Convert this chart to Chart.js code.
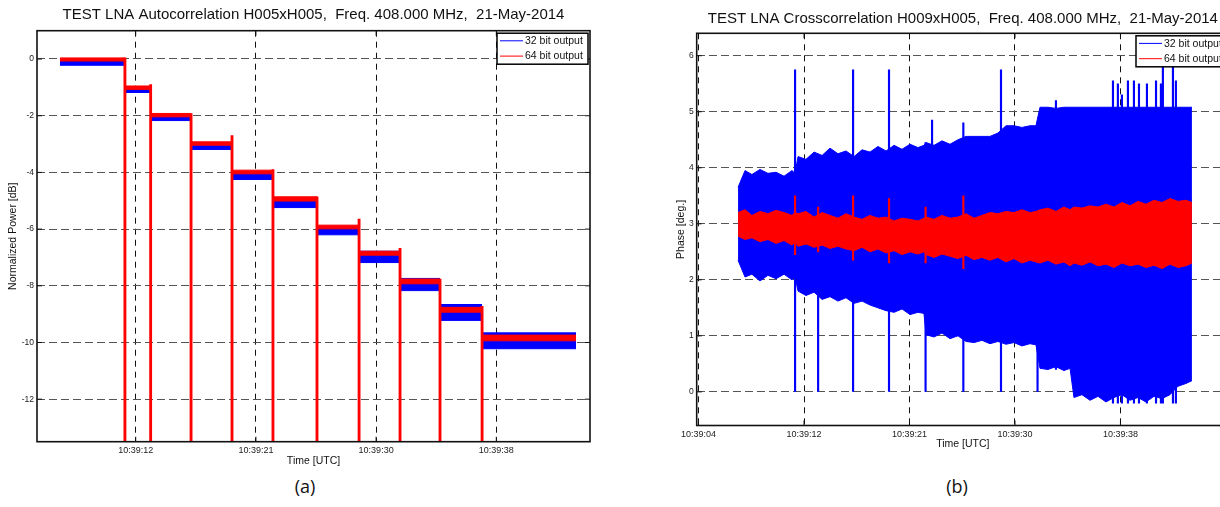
<!DOCTYPE html>
<html lang="en">
<head>
<meta charset="UTF-8">
<title>TEST LNA correlation</title>
<script src="https://cdn.jsdelivr.net/npm/chart.js"></script>
<style>
  body {
    margin: 0;
    width: 1220px;
    height: 507px;
    overflow: hidden;
    background: #fff;
    position: relative;
  }
  .wrap { position: absolute; top: 0; }
  #wrapA { left: 0; width: 600px; height: 470px; }
  #wrapB { left: 640px; width: 600px; height: 460px; }
  .cap {
    position: absolute;
    top: 474px;
    font-family: 'Open Sans', sans-serif;
    font-size: 18px;
    color: #111;
    transform: translateX(-50%);
  }
</style>
</head>
<body>

<div class="wrap" id="wrapA"><canvas id="chartA"></canvas></div>
<div class="wrap" id="wrapB"><canvas id="chartB"></canvas></div>
<div class="cap" style="left:305px">(a)</div>
<div class="cap" style="left:957px">(b)</div>

<script>
const FONT = "'Liberation Sans', Arial, sans-serif";
const BLUE = '#0000ff';
const RED = '#ff0000';

// time axis: seconds after 10:39:00
const xTickVals = [4.2, 12.8, 21.4, 30.0, 38.6];
const xTickLabels = ['10:39:04', '10:39:12', '10:39:21', '10:39:30', '10:39:38'];
const legendLabels = ['32 bit output', '64 bit output'];

// (a) autocorrelation, attenuation steps
const yTicksA = [-12, -10, -8, -6, -4, -2, 0];
const stepBoundsA = [7.38, 12.03, 13.87, 16.76, 19.69, 22.62, 25.77, 28.78, 31.71, 34.57, 37.58, 44.30];
const blueHiA = [-0.02, -0.97, -1.95, -2.95, -3.97, -4.92, -5.90, -6.78, -7.74, -8.66, -9.66];
const blueLoA = [-0.22, -1.18, -2.17, -3.19, -4.25, -5.24, -6.20, -7.18, -8.17, -9.22, -10.22];
const redHiA = [0.04, -0.95, -1.92, -2.92, -3.92, -4.86, -5.86, -6.78, -7.76, -8.76, -9.74];
const redLoA = [-0.07, -1.07, -2.04, -3.04, -4.05, -5.01, -5.99, -6.92, -7.93, -8.93, -9.94];
const dropTopA = [0.04, -0.9, -1.92, -2.7, -3.9, -4.86, -5.65, -6.68, -7.76, -8.72];

// (b) crosscorrelation phase, envelopes of the noisy traces
const yTicksB = [0, 1, 2, 3, 4, 5, 6];
const tB = [7.42, 7.99, 8.55, 9.21, 9.86, 10.52, 11.17, 11.82, 12.07, 12.31,
  12.96, 13.62, 14.27, 14.92, 15.57, 16.22, 16.88, 17.53, 18.18, 18.83,
  19.49, 20.14, 20.79, 21.44, 22.09, 22.58, 22.75, 23.40, 24.05, 24.70,
  25.35, 26.01, 26.66, 27.31, 27.96, 28.61, 29.27, 29.92, 30.57, 31.22,
  31.71, 32.04, 32.69, 33.34, 33.99, 34.49, 34.81, 35.46, 36.12, 36.77,
  37.42, 38.07, 38.72, 39.38, 40.03, 40.68, 41.33, 41.99, 42.64, 43.29,
  43.94, 44.43];
const blueHiB = [3.65, 3.95, 3.88, 3.97, 3.90, 3.92, 3.85, 3.95, 3.90, 4.20,
  4.15, 4.28, 4.22, 4.35, 4.25, 4.30, 4.20, 4.32, 4.28, 4.38,
  4.30, 4.40, 4.33, 4.42, 4.36, 4.40, 4.45, 4.40, 4.48, 4.42,
  4.50, 4.56, 4.56, 4.56, 4.56, 4.62, 4.75, 4.75, 4.72, 4.75,
  4.75, 5.08, 5.08, 5.06, 5.08, 5.08, 5.08, 5.08, 5.08, 5.08,
  5.08, 5.08, 5.08, 5.08, 5.08, 5.08, 5.08, 5.08, 5.08, 5.08,
  5.08, 5.08];
const blueLoB = [2.35, 2.05, 2.10, 1.98, 2.08, 2.02, 2.10, 2.00, 2.05, 1.80,
  1.72, 1.78, 1.65, 1.70, 1.62, 1.68, 1.58, 1.62, 1.55, 1.50,
  1.45, 1.42, 1.48, 1.38, 1.42, 1.40, 1.02, 0.98, 1.05, 0.95,
  1.00, 0.90, 0.88, 0.92, 0.86, 0.90, 0.85, 0.88, 0.82, 0.86,
  0.84, 0.42, 0.40, 0.45, 0.38, 0.42, -0.10, -0.05, -0.15, -0.08,
  -0.18, -0.10, -0.05, -0.15, -0.10, -0.18, -0.08, -0.12, -0.05, 0.10,
  0.15, 0.20];
const redHiB = [3.20, 3.25, 3.15, 3.22, 3.18, 3.24, 3.20, 3.15, 3.20, 3.18,
  3.22, 3.12, 3.20, 3.15, 3.10, 3.18, 3.12, 3.08, 3.15, 3.10,
  3.12, 3.05, 3.10, 3.08, 3.05, 3.10, 3.12, 3.08, 3.15, 3.10,
  3.12, 3.18, 3.10, 3.15, 3.20, 3.18, 3.22, 3.20, 3.25, 3.20,
  3.22, 3.25, 3.28, 3.22, 3.30, 3.25, 3.30, 3.28, 3.32, 3.30,
  3.35, 3.30, 3.38, 3.32, 3.40, 3.35, 3.42, 3.38, 3.45, 3.40,
  3.42, 3.38];
const redLoB = [2.78, 2.72, 2.75, 2.68, 2.72, 2.65, 2.70, 2.62, 2.68, 2.60,
  2.64, 2.58, 2.62, 2.56, 2.60, 2.55, 2.52, 2.58, 2.50, 2.55,
  2.48, 2.52, 2.45, 2.50, 2.46, 2.50, 2.45, 2.40, 2.46, 2.42,
  2.38, 2.44, 2.36, 2.40, 2.35, 2.40, 2.32, 2.38, 2.30, 2.35,
  2.32, 2.30, 2.35, 2.28, 2.32, 2.25, 2.30, 2.26, 2.32, 2.25,
  2.28, 2.22, 2.30, 2.25, 2.28, 2.22, 2.26, 2.20, 2.28, 2.22,
  2.25, 2.30];
const spikeTB = [12.07, 13.95, 16.80, 19.73, 22.71, 23.24, 25.79, 28.86, 31.84, 33.34,
  37.99, 38.39, 38.72, 39.21, 39.70, 40.11, 40.76, 41.50, 41.90, 42.06, 42.88, 43.12];
const spikeLoB = [0, 0, 0, 0, 0, 1.5, 0, 0, 0, 0.4,
  -0.2, -0.2, -0.2, -0.2, -0.2, -0.2, -0.2, -0.2, -0.2, -0.2, -0.2, -0.2];
const spikeHiB = [5.75, 4.2, 5.75, 5.75, 4.45, 4.85, 4.8, 5.75, 4.8, 5.2,
  5.55, 5.5, 5.3, 5.55, 5.55, 5.5, 5.5, 5.55, 5.5, 5.85, 5.85, 5.55];
const redSpikeTB = [12.07, 13.95, 16.80, 19.73, 22.71, 25.79];
const redSpikeLoB = [2.45, 2.5, 2.35, 2.3, 2.3, 2.2];
const redSpikeHiB = [3.5, 3.3, 3.5, 3.45, 3.3, 3.5];

// axes box with inward tick marks, like the matlab figure
const frame = {
  id: 'frame',
  afterDatasetsDraw(chart) {
    const { ctx, chartArea: a, scales } = chart;
    ctx.save();
    ctx.setLineDash([]);
    ctx.strokeStyle = '#111';
    ctx.lineWidth = 1;
    scales.x.ticks.forEach(t => {
      const p = scales.x.getPixelForValue(t.value);
      ctx.beginPath();
      ctx.moveTo(p, a.bottom); ctx.lineTo(p, a.bottom - 5);
      ctx.moveTo(p, a.top); ctx.lineTo(p, a.top + 5);
      ctx.stroke();
    });
    scales.y.ticks.forEach(t => {
      const p = scales.y.getPixelForValue(t.value);
      ctx.beginPath();
      ctx.moveTo(a.left, p); ctx.lineTo(a.left + 5, p);
      ctx.moveTo(a.right, p); ctx.lineTo(a.right - 5, p);
      ctx.stroke();
    });
    ctx.lineWidth = 1.6;
    ctx.strokeRect(a.left, a.top, a.right - a.left, a.bottom - a.top);
    ctx.restore();
  }
};

const boxLegend = {
  id: 'boxLegend',
  afterDraw(chart) {
    const { ctx, chartArea: a } = chart;
    const w = 91, h = 31;
    const x = a.right - 2 - w, y = a.top + 2.5;
    const colors = [BLUE, RED];
    ctx.save();
    ctx.setLineDash([]);
    ctx.fillStyle = '#fff';
    ctx.fillRect(x, y, w, h);
    ctx.strokeStyle = '#000';
    ctx.lineWidth = 1.5;
    ctx.strokeRect(x, y, w, h);
    ctx.font = '10.5px ' + FONT;
    ctx.textBaseline = 'middle';
    legendLabels.forEach((lab, i) => {
      const ly = y + 7.6 + i * 15.3;
      ctx.strokeStyle = colors[i];
      ctx.lineWidth = 1;
      ctx.beginPath();
      ctx.moveTo(x + 3, ly);
      ctx.lineTo(x + 26, ly);
      ctx.stroke();
      ctx.fillStyle = '#111';
      ctx.fillText(lab, x + 28, ly + 0.5);
    });
    ctx.restore();
  }
};

function makeOptions(cfg) {
  return {
    responsive: true,
    maintainAspectRatio: false,
    animation: false,
    layout: { padding: { left: 0, right: cfg.padRight, top: 0, bottom: 0 } },
    plugins: {
      legend: { display: false },
      tooltip: { enabled: false },
      title: {
        display: true, fullSize: false, text: cfg.title, color: '#111',
        font: { size: 15, family: FONT, weight: 'normal' },
        padding: cfg.titlePad
      }
    },
    scales: {
      x: {
        type: 'linear', min: cfg.xMin, max: cfg.xMax, offset: false,
        afterBuildTicks: s => {
          s.ticks = xTickVals.filter(v => v >= cfg.xMin && v <= cfg.xMax).map(v => ({ value: v }));
        },
        afterFit: s => { s.height = cfg.xAxisHeight; },
        ticks: {
          autoSkip: false, maxRotation: 0, padding: cfg.xTickPad, color: '#222',
          font: { size: 9, family: FONT },
          callback: v => xTickLabels[xTickVals.indexOf(v)]
        },
        grid: { offset: false, color: '#111', lineWidth: 1, drawTicks: false },
        border: { display: false, dash: [6, 5] },
        title: {
          display: true, text: 'Time [UTC]', color: '#111',
          font: { size: 10.5, family: FONT }, padding: { top: 0, bottom: cfg.xTitlePad }
        }
      },
      y: {
        min: cfg.yMin, max: cfg.yMax,
        afterBuildTicks: s => { s.ticks = cfg.yTicks.map(v => ({ value: v })); },
        afterFit: s => { s.width = cfg.yAxisWidth; },
        ticks: {
          padding: 3, color: '#222', font: { size: 8.5, family: FONT },
          callback: v => String(v)
        },
        grid: { offset: false, color: '#555', lineWidth: 1.1, drawTicks: false },
        border: { display: false, dash: [8, 4] },
        title: {
          display: true, text: cfg.yTitle, color: '#111',
          font: { size: 10.5, family: FONT }, padding: { top: cfg.yTitlePad, bottom: 0 }
        }
      }
    }
  };
}

// ---- chart (a)
const datasetsA = [];
for (let i = 0; i < redHiA.length; i++) {
  const x0 = stepBoundsA[i], x1 = stepBoundsA[i + 1];
  datasetsA.push({ type: 'line', data: [{ x: x0, y: redHiA[i] }, { x: x1, y: redHiA[i] }],
    borderColor: RED, borderWidth: 1, pointRadius: 0, fill: false, order: 1 });
  datasetsA.push({ type: 'line', data: [{ x: x0, y: redLoA[i] }, { x: x1, y: redLoA[i] }],
    borderColor: RED, backgroundColor: RED, borderWidth: 1, pointRadius: 0, fill: '-1', order: 1 });
}
for (let i = 0; i < blueHiA.length; i++) {
  const x0 = stepBoundsA[i], x1 = stepBoundsA[i + 1];
  datasetsA.push({ type: 'line', data: [{ x: x0, y: blueHiA[i] }, { x: x1, y: blueHiA[i] }],
    borderColor: BLUE, borderWidth: 1, pointRadius: 0, fill: false, order: 3 });
  datasetsA.push({ type: 'line', data: [{ x: x0, y: blueLoA[i] }, { x: x1, y: blueLoA[i] }],
    borderColor: BLUE, backgroundColor: BLUE, borderWidth: 1, pointRadius: 0, fill: '-1', order: 3 });
}
datasetsA.push({
  type: 'bar', order: 0, grouped: false, clip: 0,
  data: stepBoundsA.slice(1, -1).map((b, i) => ({ x: b, y: [-13.5, dropTopA[i]] })),
  backgroundColor: RED, maxBarThickness: 2.2, barPercentage: 1, categoryPercentage: 1
});

new Chart(document.getElementById('chartA'), {
  type: 'line',
  data: { datasets: datasetsA },
  options: makeOptions({
    title: 'TEST LNA Autocorrelation H005xH005,  Freq. 408.000 MHz,  21-May-2014',
    titlePad: { top: 6, bottom: 6.7 },
    padRight: 10,
    xMin: 5.74, xMax: 45.3, xAxisHeight: 28.3, xTickPad: 3, xTitlePad: 3,
    yMin: -13.5, yMax: 1, yTicks: yTicksA, yAxisWidth: 37,
    yTitle: 'Normalized Power [dB]', yTitlePad: 6.7
  }),
  plugins: [frame, boxLegend]
});

// ---- chart (b)
const pts = (xs, ys) => xs.map((x, i) => ({ x: x, y: ys[i] }));
const datasetsB = [
  { type: 'line', data: pts(tB, redHiB), borderColor: RED, borderWidth: 1, pointRadius: 0, fill: false, order: 1 },
  { type: 'line', data: pts(tB, redLoB), borderColor: RED, backgroundColor: RED, borderWidth: 1, pointRadius: 0, fill: '-1', order: 1 },
  { type: 'line', data: pts(tB, blueHiB), borderColor: BLUE, borderWidth: 1, pointRadius: 0, fill: false, order: 3 },
  { type: 'line', data: pts(tB, blueLoB), borderColor: BLUE, backgroundColor: BLUE, borderWidth: 1, pointRadius: 0, fill: '-1', order: 3 },
  { type: 'bar', order: 2, grouped: false, clip: 0, backgroundColor: BLUE,
    maxBarThickness: 1.5, barPercentage: 1, categoryPercentage: 1,
    data: spikeTB.map((t, i) => ({ x: t, y: [spikeLoB[i], spikeHiB[i]] })) },
  { type: 'bar', order: 0, grouped: false, clip: 0, backgroundColor: RED,
    maxBarThickness: 1.5, barPercentage: 1, categoryPercentage: 1,
    data: redSpikeTB.map((t, i) => ({ x: t, y: [redSpikeLoB[i], redSpikeHiB[i]] })) }
];

new Chart(document.getElementById('chartB'), {
  type: 'line',
  data: { datasets: datasetsB },
  options: makeOptions({
    title: 'TEST LNA Crosscorrelation H009xH005,  Freq. 408.000 MHz,  21-May-2014',
    titlePad: { top: 10, bottom: 5.3 },
    padRight: 11,
    xMin: 4.05, xMax: 47.45, xAxisHeight: 34.5, xTickPad: 3.5, xTitlePad: 9.5,
    yMin: -0.6, yMax: 6.4, yTicks: yTicksB, yAxisWidth: 56.7,
    yTitle: 'Phase [deg.]', yTitlePad: 34.7
  }),
  plugins: [frame, boxLegend]
});
</script>
</body>
</html>
